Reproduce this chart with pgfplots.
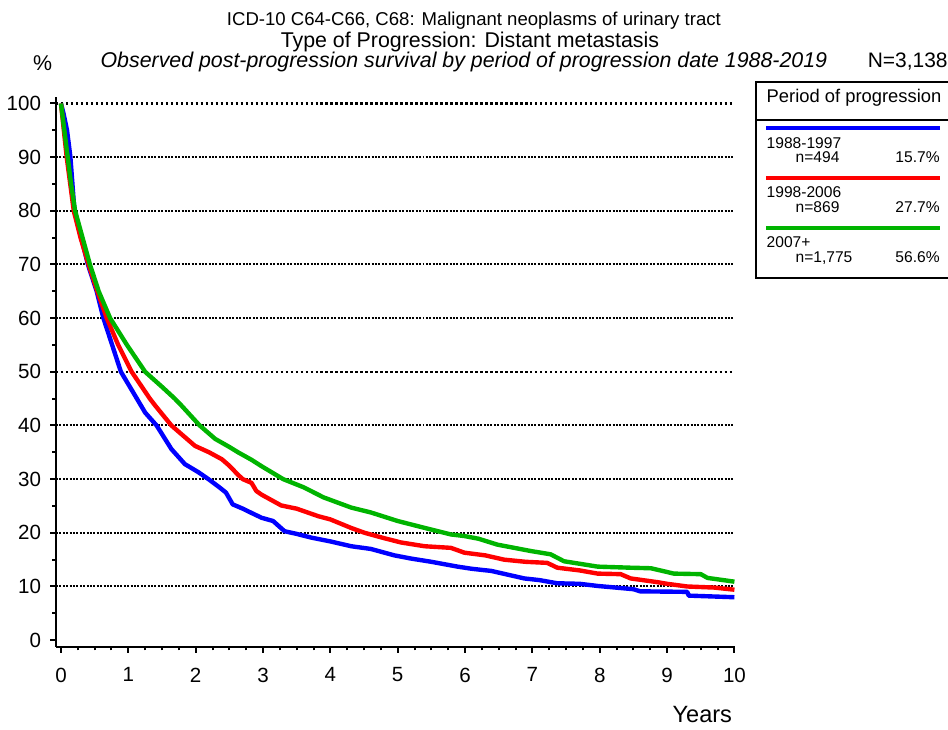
\documentclass[border=0pt]{standalone}
\usepackage{pgfplots}
\pgfplotsset{compat=1.18}
\usepackage{fontspec}
\setmainfont{Liberation Sans}

\definecolor{cBlue}{RGB}{0,0,255}
\definecolor{cRed}{RGB}{255,0,0}
\definecolor{cGreen}{RGB}{0,180,0}

\begin{document}
\begin{tikzpicture}
% page frame in pixel-like units (1 unit = 0.5pt, y downwards)
\begin{scope}[x=0.5pt,y=-0.5pt]
\path[use as bounding box] (0,0) rectangle (948,731);

% titles
\node[anchor=base,font=\fontsize{9.3}{11}\selectfont] at (473,25.5) {ICD-10 C64-C66, C68: Malignant neoplasms of urinary tract};
\node[anchor=base,font=\fontsize{10.7}{12}\selectfont] at (469,48) {Type of Progression: Distant metastasis};
\node[anchor=base,font=\fontsize{10.7}{12}\selectfont\itshape] at (463,68) {Observed post-progression survival by period of progression date 1988-2019};
\node[anchor=base west,inner sep=0pt,font=\fontsize{10.7}{12}\selectfont] at (31,71) {\%};
\node[anchor=base east,inner sep=0pt,font=\fontsize{10.5}{12}\selectfont] at (948,68) {N=3,138};
\node[anchor=base east,inner sep=0pt,font=\fontsize{11.8}{13}\selectfont] at (732,724) {Years};

% legend box
\draw[line width=1pt] (951,82) -- (756,82) -- (756,279) -- (951,279);
\draw[line width=1pt] (756,120) -- (951,120);
\node[anchor=base west,inner sep=0pt,font=\fontsize{9.2}{11}\selectfont] at (766,103) {Period of progression};
\begin{scope}[font=\fontsize{7.8}{9}\selectfont,every node/.style={inner sep=0pt}]
\draw[cBlue,line width=2pt] (766,128.3) -- (940,128.3);
\node[anchor=base west] at (766,148.3) {1988-1997};
\node[anchor=base west] at (795,163) {n=494};
\node[anchor=base east] at (940,163) {15.7\%};
\draw[cRed,line width=2pt] (766,178.3) -- (940,178.3);
\node[anchor=base west] at (766,198.3) {1998-2006};
\node[anchor=base west] at (795,213) {n=869};
\node[anchor=base east] at (940,213) {27.7\%};
\draw[cGreen,line width=2pt] (766,228.3) -- (940,228.3);
\node[anchor=base west] at (766,248.3) {2007+};
\node[anchor=base west] at (795,263) {n=1,775};
\node[anchor=base east] at (940,263) {56.6\%};
\end{scope}
\end{scope}

\begin{axis}[
  at={(27.15pt,-324pt)}, anchor=south west,
  scale only axis,
  width=340.2pt, height=275.65pt,
  xmin=-0.074, xmax=10.01,
  ymin=-1.23, ymax=101.3,
  axis x line=bottom, axis y line=left,
  axis line style={line width=1pt,-},
  xtick={0,1,...,10}, ytick={0,10,...,100},
  minor x tick num=3, minor y tick num=1,
  tick align=outside,
  major tick length=3pt, minor tick length=1.8pt,
  every tick/.style={line width=1pt,black},
  tick label style={font=\fontsize{10.3}{12}\selectfont},
  /pgf/number format/assume math mode=true,
  xticklabel style={yshift=-4pt},
  yticklabel style={xshift=-1pt},
  clip=false,
]
% horizontal reference lines
\foreach \yy in {10,20,30,40,60,70,80,90}{
  \edef\temp{\noexpand\draw[line width=1pt,dash pattern=on 1pt off 0.7pt] (axis cs:-0.074,\yy) -- (axis cs:10,\yy);}
  \temp
}
\foreach \yy in {50,100}{
  \edef\temp{\noexpand\draw[line width=1.2pt,dash pattern=on 1.2pt off 1.3pt] (axis cs:-0.074,\yy) -- (axis cs:10,\yy);}
  \temp
}

% 1988-1997
\addplot[cBlue,line width=2.2pt,line join=round] coordinates {
(0,100) (0.04,98) (0.09,95) (0.14,90) (0.20,80) (0.30,75) (0.40,70)
(0.53,65) (0.63,60) (0.76,55) (0.89,50) (1.08,46) (1.25,42.4) (1.42,40)
(1.64,35.6) (1.84,32.8) (2.04,31.3)
(2.19,30) (2.35,28.5) (2.45,27.5) (2.55,25.3) (2.70,24.5) (2.83,23.7)
(2.98,22.8) (3.15,22.2) (3.32,20.3) (3.50,19.8) (3.72,19.1) (4.00,18.4)
(4.31,17.5) (4.60,17.0) (4.95,15.8) (5.20,15.2) (5.50,14.6) (5.89,13.7)
(6.10,13.3) (6.39,12.9) (6.60,12.3) (6.88,11.5) (7.10,11.2) (7.37,10.6)
(7.70,10.5) (7.97,10.1) (8.50,9.5) (8.60,9.1) (9.30,9.0) (9.32,8.3) (10,8.0)
};
% 1998-2006
\addplot[cRed,line width=2.2pt,line join=round] coordinates {
(0,100) (0.085,90) (0.19,80) (0.29,75) (0.41,70) (0.54,65) (0.68,60)
(0.85,55) (1.05,50) (1.32,45) (1.40,43.7) (1.64,40)
(1.99,36.2) (2.20,35) (2.39,33.7) (2.50,32.5) (2.63,30.8) (2.70,30.0)
(2.83,29.3) (2.90,27.8) (2.98,27.1) (3.27,25.1) (3.50,24.5) (3.82,23.1)
(4.00,22.5) (4.31,20.9) (4.51,20.0) (4.80,19.0) (5.05,18.2) (5.40,17.5)
(5.79,17.2) (5.99,16.3) (6.30,15.8) (6.58,15.0) (6.90,14.6) (7.22,14.4)
(7.37,13.5) (7.70,13.0) (7.97,12.4) (8.31,12.3) (8.46,11.5) (8.86,10.8)
(9.00,10.5) (9.30,10.0) (9.70,9.8) (10,9.4)
};
% 2007+
\addplot[cGreen,line width=2.2pt,line join=round] coordinates {
(0,100) (0.05,95) (0.10,90) (0.15,85) (0.21,80) (0.32,75) (0.43,70)
(0.56,65) (0.73,60) (0.98,55) (1.25,50) (1.50,47.2) (1.69,45)
(1.79,43.7) (2.06,40) (2.29,37.5)
(2.50,36) (2.63,35.0) (2.83,33.6) (2.98,32.4) (3.30,30) (3.60,28.5)
(3.90,26.6) (4.31,24.7) (4.60,23.8) (5.00,22.2) (5.50,20.6) (5.79,19.7)
(5.99,19.4) (6.20,18.9) (6.48,17.8) (6.98,16.6) (7.27,16.0) (7.47,14.7)
(7.97,13.7) (8.46,13.5) (8.76,13.4) (9.00,12.7) (9.10,12.4) (9.50,12.3)
(9.60,11.6) (10,10.9)
};
\end{axis}
\end{tikzpicture}
\end{document}
